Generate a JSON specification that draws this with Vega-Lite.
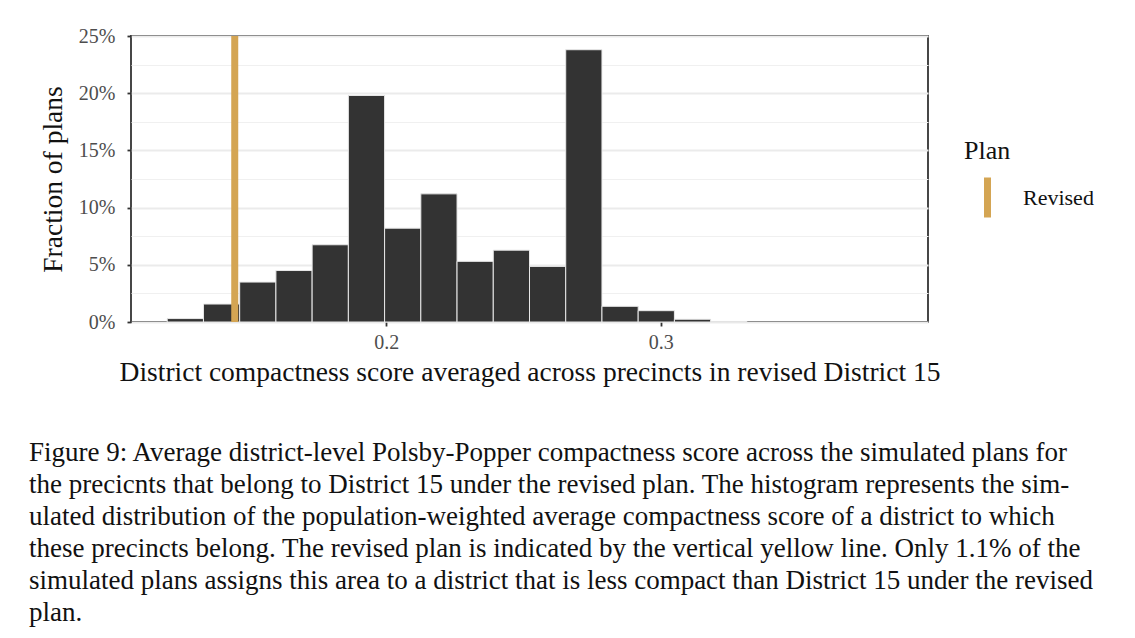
{
  "$schema": "https://vega.github.io/schema/vega-lite/v6.json",
  "width": 797,
  "height": 286,
  "autosize": {"type": "none"},
  "padding": {"left": 131, "top": 36, "right": 207, "bottom": 316},
  "background": "white",
  "config": {
    "font": "Liberation Serif",
    "view": {"stroke": "#333333", "strokeWidth": 1.8},
    "axis": {
      "labelFont": "Liberation Serif",
      "titleFont": "Liberation Serif",
      "labelColor": "#4d4d4d",
      "labelFontSize": 20,
      "titleFontSize": 27.5,
      "titleFontWeight": "normal",
      "titleColor": "#111111",
      "tickColor": "#333333",
      "tickWidth": 1.8,
      "tickSize": 4,
      "domain": false
    }
  },
  "title": {
    "text": [
      "Figure 9:  Average district-level Polsby-Popper compactness score across the simulated plans for",
      "the precicnts that belong to District 15 under the revised plan.  The histogram represents the sim-",
      "ulated distribution of the population-weighted average compactness score of a district to which",
      "these precincts belong. The revised plan is indicated by the vertical yellow line. Only 1.1% of the",
      "simulated plans assigns this area to a district that is less compact than District 15 under the revised",
      "plan."
    ],
    "orient": "bottom",
    "anchor": "start",
    "frame": "group",
    "dx": -102,
    "offset": 54,
    "font": "Liberation Serif",
    "fontSize": 27,
    "fontWeight": "normal",
    "color": "#111111",
    "lineHeight": 32,
    "baseline": "top"
  },
  "datasets": {
    "bins": [
      {"start": 0.1202, "end": 0.1334, "frac": 0.003},
      {"start": 0.1334, "end": 0.1466, "frac": 0.0157},
      {"start": 0.1466, "end": 0.1598, "frac": 0.0349},
      {"start": 0.1598, "end": 0.1730, "frac": 0.045},
      {"start": 0.1730, "end": 0.1862, "frac": 0.0675},
      {"start": 0.1862, "end": 0.1994, "frac": 0.198},
      {"start": 0.1994, "end": 0.2126, "frac": 0.082},
      {"start": 0.2126, "end": 0.2258, "frac": 0.112},
      {"start": 0.2258, "end": 0.2390, "frac": 0.053},
      {"start": 0.2390, "end": 0.2522, "frac": 0.0628},
      {"start": 0.2522, "end": 0.2654, "frac": 0.0486},
      {"start": 0.2654, "end": 0.2786, "frac": 0.238},
      {"start": 0.2786, "end": 0.2918, "frac": 0.0137},
      {"start": 0.2918, "end": 0.3050, "frac": 0.0099},
      {"start": 0.3050, "end": 0.3182, "frac": 0.0024},
      {"start": 0.3182, "end": 0.3314, "frac": 0.0005}
    ],
    "plan": [
      {"score": 0.1448, "plan": "Revised"}
    ]
  },
  "layer": [
    {
      "data": {"name": "bins"},
      "mark": {"type": "bar", "opacity": 0},
      "encoding": {
        "x": {
          "field": "start", "type": "quantitative",
          "scale": {"domain": [0.107, 0.3974], "nice": false, "zero": false},
          "axis": {"values": [0.2, 0.3], "format": ".1f", "grid": false, "labelPadding": 6, "title": "District compactness score averaged across precincts in revised District 15", "titlePadding": 6}
        },
        "x2": {"field": "end"},
        "y": {
          "field": "frac", "type": "quantitative",
          "scale": {"domain": [0, 0.25], "nice": false},
          "axis": {"orient": "left", "values": [0.025, 0.075, 0.125, 0.175, 0.225], "labels": false, "ticks": false, "title": null, "grid": true, "gridColor": "#f0f0f0", "gridWidth": 1}
        },
        "y2": {"datum": 0}
      }
    },
    {
      "data": {"name": "bins"},
      "mark": {"type": "bar", "fill": "#333333", "stroke": "#e8e8e8", "strokeWidth": 1},
      "encoding": {
        "x": {
          "field": "start", "type": "quantitative",
          "scale": {"domain": [0.107, 0.3974], "nice": false, "zero": false},
          "axis": {"values": [0.2, 0.3], "format": ".1f", "grid": false, "labelPadding": 6, "title": "District compactness score averaged across precincts in revised District 15", "titlePadding": 6}
        },
        "x2": {"field": "end"},
        "y": {
          "field": "frac", "type": "quantitative",
          "scale": {"domain": [0, 0.25], "nice": false},
          "axis": {"orient": "left", "values": [0, 0.05, 0.1, 0.15, 0.2, 0.25], "format": ".0%", "grid": true, "gridColor": "#ebebeb", "gridWidth": 2, "labelPadding": 12, "title": "Fraction of plans", "titlePadding": 11}
        },
        "y2": {"datum": 0}
      }
    },
    {
      "data": {"name": "plan"},
      "mark": {"type": "rule", "strokeWidth": 7},
      "encoding": {
        "x": {"field": "score", "type": "quantitative"},
        "color": {
          "field": "plan", "type": "nominal",
          "scale": {"domain": ["Revised"], "range": ["#D4A553"]},
          "legend": {
            "title": "Plan",
            "orient": "none",
            "legendX": 833,
            "legendY": 102,
            "titleFont": "Liberation Serif",
            "titleFontSize": 26,
            "titleFontWeight": "normal",
            "titleColor": "#111111",
            "titlePadding": 10,
            "labelFont": "Liberation Serif",
            "labelFontSize": 22,
            "labelColor": "#111111",
            "labelOffset": 12,
            "symbolType": "M0,-1V1",
            "symbolSize": 1600,
            "symbolStrokeWidth": 7
          }
        }
      }
    }
  ],
  "resolve": {"axis": {"y": "independent"}}
}
